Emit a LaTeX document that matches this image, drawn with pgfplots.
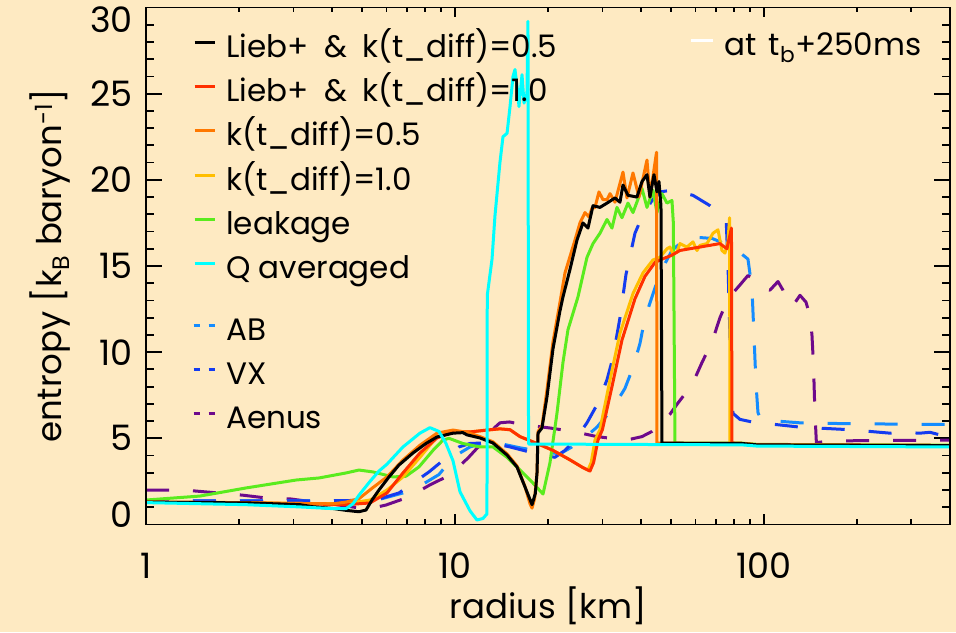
\documentclass[border=0pt]{standalone}
\usepackage{pgfplots}
\pgfplotsset{compat=1.18}
\usepackage{fontspec}
\setmainfont{Poppins}

\definecolor{bgpeach}{RGB}{254,234,194}
\definecolor{cLiebA}{RGB}{0,0,0}
\definecolor{cLiebB}{RGB}{255,48,0}
\definecolor{cKhalf}{RGB}{255,120,0}
\definecolor{cKone}{RGB}{255,190,0}
\definecolor{cLeak}{RGB}{90,235,30}
\definecolor{cQavg}{RGB}{0,255,255}
\definecolor{cAB}{RGB}{20,140,255}
\definecolor{cVX}{RGB}{20,60,240}
\definecolor{cAenus}{RGB}{110,10,140}

\newcommand{\legfont}{\fontsize{31}{36}\selectfont}
\newcommand{\tickfont}{\fontsize{35}{40}\selectfont}
\newcommand{\labfont}{\fontsize{34}{40}\selectfont}

\begin{document}
\begin{tikzpicture}
\fill[bgpeach] (0,0) rectangle (956pt,632pt);
\useasboundingbox (0,0) rectangle (956pt,632pt);

% data axis, with the y ticks
\begin{axis}[
  xmode=log, xmin=1, xmax=400, ymin=0, ymax=30,
  scale only axis, width=804pt, height=517pt,
  at={(146pt,107.5pt)}, anchor=south west,
  axis line style={line width=1.8pt, black},
  every tick/.style={line width=1.8pt, black},
  xtick=\empty,
  ytick={0,5,10,15,20,25,30},
  minor ytick={1,2,3,4,6,7,8,9,11,12,13,14,16,17,18,19,21,22,23,24,26,27,28,29},
  yticklabels={\raisebox{10pt}[\height][\depth]{0},5,10,15,20,25,\raisebox{-12pt}[\height][\depth]{30}},
  major tick length=16pt, minor tick length=8pt,
  yticklabel style={font=\tickfont, anchor=east, inner sep=0pt, xshift=-13pt},
  ylabel={entropy [k\textsubscript{B} baryon\textsuperscript{-1}]},
  ylabel style={font=\labfont, at={(axis description cs:-0.1045,0.5)}, anchor=base},
]
% Aenus
\addplot[line width=3pt, line join=round, dash pattern=on 23pt off 24pt, cAenus] coordinates {
(1.000,2.0) (1.187,2.0) (1.430,1.95) (1.710,1.83) (2.060,1.7) (2.445,1.54) (2.947,1.48) (3.498,1.3)
(4.213,1.13) (4.891,0.96) (5.4,0.95) (5.980,1.13) (7.098,1.6) (8.300,2.3) (9.634,2.87) (11.02,3.86)
(12.32,4.8) (13.2,5.5) (13.98,5.9) (15.0,5.95) (16.60,5.8) (20.29,5.6) (24.09,5.4) (28.81,5.1)
(33.69,4.95) (37.0,4.95) (40.29,5.1) (43.4,5.4) (46.76,5.9) (49.63,6.4) (52.68,7.05) (58.48,8.1)
(63.02,9.4) (67.91,10.6) (72.05,12.0) (76.48,13.1) (83.62,13.9) (88.76,14.45) (93.52,14.2) (98.51,13.7)
(104.6,13.6) (111.0,14.1) (115.2,13.6) (118.7,12.9) (124.1,12.7) (130.8,13.3) (136.8,12.9) (140.9,12.1)
(143.0,11.0) (144.6,9.3) (146.2,6.5) (147.8,4.75) (163.5,4.85) (399.9,4.9)
};
% AB
\addplot[line width=3pt, line join=round, dash pattern=on 23pt off 24pt, cAB] coordinates {
(1.000,1.36) (4.438,1.38) (5.675,1.45) (6.787,1.83) (7.646,2.2) (8.876,2.9) (9.852,3.9) (11.18,4.5)
(12.51,4.75) (13.98,4.7) (16.23,4.45) (19.56,4.2) (21.87,4.1) (23.9,4.5) (25.38,4.9) (27.35,5.3)
(28.81,5.65) (32.46,6.75) (35.49,7.9) (37.68,9.1) (39.69,10.5) (41.20,12.0) (43.40,13.2) (46.07,14.6)
(50.38,15.9) (56.75,16.7) (67.91,16.6) (79.38,16.1) (88.76,15.4) (91.45,13.7) (92.82,11.0) (94.21,8.2)
(95.62,6.5) (97.07,6.2) (100.7,6.05) (110.2,6.0) (130.8,5.9) (185.6,5.85) (399.9,5.8)
};
% VX
\addplot[line width=3pt, line join=round, dash pattern=on 23pt off 24pt, cVX] coordinates {
(1.000,1.36) (4.438,1.38) (5.675,1.48) (6.588,1.83) (8.238,3.05) (9.352,3.86) (10.30,4.5) (11.18,4.7)
(12.98,4.75) (15.07,4.5) (17.49,4.2) (19.56,4.0) (21.07,3.9) (22.70,4.3) (24.45,4.9) (26.74,5.9)
(29.03,7.05) (31.05,8.4) (32.46,9.7) (34.20,12.0) (35.76,14.5) (38.24,16.9) (40.29,17.85) (43.40,18.8)
(46.07,19.3) (50.38,19.4) (58.92,19.1) (66.90,18.5) (72.05,18.0) (75.5,17.6) (76.5,15.0) (77.6,11.0)
(78.5,7.5) (79.38,6.45) (83.62,6.1) (91.45,5.95) (130.8,5.65) (189.8,5.5) (237.4,5.35) (255.7,5.3)
(275.5,5.35) (319.8,5.3) (344.5,5.35) (371.2,5.2) (399.9,5.25)
};
% leakage
\addplot[line width=3pt, line join=round, cLeak] coordinates {
(1.000,1.42) (1.495,1.65) (2.107,2.12) (3.058,2.58) (3.630,2.7) (4.438,2.99) (4.891,3.16) (5.428,3.05)
(6.300,2.76) (6.941,2.8) (7.646,3.34) (8.488,4.3) (9.146,4.9) (9.563,5.0) (10.61,4.7) (12.05,4.5)
(13.27,4.5) (14.74,3.9) (16.23,3.16) (17.89,2.4) (19.27,1.77) (20.29,3.57) (21.39,6.47) (22.36,9.4)
(23.21,11.3) (25.0,13.2) (26.74,15.5) (27.97,16.3) (29.46,16.9) (31.05,17.7) (32.22,17.2) (33.44,18.4)
(34.71,17.8) (36.30,18.65) (37.68,18.1) (40.29,19.5) (41.82,18.4) (43.72,19.4) (45.05,18.1) (46.76,19.2)
(48.54,18.65) (50.38,18.8) (50.9,17.5) (51.52,4.72) (85,4.72) (95,4.65) (400,4.6)
};
% k(t_diff)=1.0
\addplot[line width=3pt, line join=round, cKone] coordinates {
(1.000,1.30) (2.170,1.27) (3.150,1.22) (4.438,1.2) (5.308,1.42) (6.025,2.0) (6.787,2.76) (7.703,3.9)
(8.744,5.08) (9.852,5.37) (11.18,5.37) (12.69,5.48) (13.98,5.55) (15.07,5.5) (16.23,5.1) (18.43,4.7)
(20.76,4.3) (23.56,3.75) (25.95,3.3) (26.94,3.16) (27.6,3.6) (28.39,4.9) (29.46,5.5) (31.75,8.4)
(34.20,11.1) (37.68,13.4) (40.59,14.6) (43.72,15.35) (46.07,15.5) (48.54,16.0) (49.63,16.1) (50.75,15.7)
(52.29,15.8) (53.47,16.3) (56.33,16.1) (58.92,16.4) (60.7,15.9) (62.09,16.2) (65.42,16.3) (68.39,16.9)
(70.98,17.1) (73.13,15.9) (74.79,15.75) (76.48,16.4) (77.4,17.8) (77.63,4.72) (85,4.7) (95,4.62) (400,4.58)
};
% Lieb+ & k(t_diff)=1.0
\addplot[line width=3pt, line join=round, cLiebB] coordinates {
(1.000,1.30) (2.170,1.25) (3.150,1.2) (4.438,1.15) (5.308,1.25) (6.025,1.83) (6.787,2.99) (7.703,4.15)
(8.744,5.02) (9.852,5.37) (11.18,5.37) (12.69,5.48) (13.98,5.55) (15.07,5.5) (16.23,5.1) (18.43,4.7)
(20.76,4.3) (23.56,3.75) (25.95,3.3) (27.35,3.1) (28.1,3.6) (29.03,4.9) (30.0,5.5) (32.22,8.0)
(34.71,10.7) (38.24,13.1) (41.20,14.4) (44.38,15.2) (46.76,15.4) (50.0,15.6) (53.47,15.9) (57.5,16.0)
(62.09,16.1) (66.90,16.2) (72.05,16.3) (75.91,16.0) (78.5,17.2) (78.79,4.72) (85,4.7) (95,4.62) (400,4.58)
};
% k(t_diff)=0.5
\addplot[line width=3pt, line join=round, cKhalf] coordinates {
(1.000,1.30) (2.170,1.25) (3.150,1.22) (4.029,1.2) (4.438,1.3) (4.891,1.5) (5.388,2.1) (6.025,2.76)
(6.787,3.74) (7.703,4.6) (8.744,5.3) (9.852,5.48) (10.94,5.35) (12.05,5.1) (13.27,4.8) (14.74,4.1)
(15.87,3.4) (16.85,2.2) (17.49,1.2) (17.76,0.95) (18.1,1.5) (18.43,3.0) (18.57,5.4) (19.12,5.7)
(19.85,7.8) (20.76,10.6) (21.87,12.9) (22.70,14.6) (24.45,16.5) (25.38,17.5) (26.35,18.1) (27.14,17.85)
(27.76,18.35) (28.39,18.4) (29.24,19.3) (30.13,18.85) (31.05,18.85) (31.75,19.2) (32.95,18.7) (34.97,20.45)
(36.03,18.95) (37.68,20.4) (39.40,19.0) (41.82,21.15) (42.76,19.0) (44.9,21.6) (45.05,4.72) (85,4.7)
(95,4.62) (400,4.58)
};
% Lieb+ & k(t_diff)=0.5
\addplot[line width=3pt, line join=round, cLiebA] coordinates {
(1.000,1.30) (2.170,1.25) (3.150,1.15) (3.472,1.03) (4.029,0.93) (4.438,0.82) (4.891,0.74) (5.152,0.84)
(5.388,1.42) (5.675,2.00) (6.115,2.76) (6.588,3.45) (7.313,4.15) (8.055,4.70) (8.744,5.08) (9.852,5.30)
(10.61,5.33) (10.94,5.20) (12.05,5.02) (13.27,4.73) (14.74,4.03) (15.87,3.34) (16.85,2.18) (17.76,1.15)
(18.20,1.80) (18.43,3.00) (18.57,5.30) (19.12,5.60) (19.85,7.40) (20.76,10.2) (21.87,12.4) (22.36,13.2)
(23.56,14.8) (24.82,16.5) (25.95,17.5) (26.94,17.2) (27.97,18.5) (29.46,18.4) (31.05,18.65) (32.95,18.95)
(34.20,18.7) (34.97,19.7) (36.30,19.1) (38.82,19.0) (40.29,19.9) (41.82,20.3) (42.76,19.0) (44.06,20.3)
(45.05,19.3) (45.73,19.9) (46.42,18.5) (46.76,4.72) (85,4.70) (95,4.62) (400,4.58)
};
% Q averaged
\addplot[line width=3pt, line join=round, cQavg] coordinates {
(1.000,1.27) (2.107,1.15) (3.150,1.02) (4.029,0.92) (4.438,0.92) (4.677,1.2) (4.891,1.7) (5.308,2.5)
(5.675,3.1) (6.025,3.5) (6.787,4.5) (7.703,5.3) (8.3,5.62) (8.876,5.4) (9.352,4.7) (9.852,3.7)
(10.38,1.9) (11.18,0.8) (11.78,0.26) (12.32,0.35) (12.60,0.55) (12.69,0.6) (12.72,13.3) (13.18,15.4)
(13.47,17.9) (13.98,21.0) (14.30,22.5) (14.74,22.7) (15.07,24.25) (15.41,26.0) (15.64,26.4) (15.99,25.0)
(16.11,24.25) (16.48,26.1) (16.73,24.45) (17.10,25.0) (17.23,29.2) (17.30,4.67) (85,4.62) (95,4.55) (400,4.5)
};
\end{axis}

% x ticks, x label and the legend of the solid curves
\begin{axis}[
  xmode=log, xmin=1, xmax=400, ymin=0, ymax=30,
  scale only axis, width=804pt, height=517pt,
  at={(146pt,107.5pt)}, anchor=south west,
  axis line style={line width=1.8pt, black},
  every tick/.style={line width=1.8pt, black},
  ytick=\empty,
  xtick={1,10,100}, xticklabels={1,10,100},
  minor xtick={2,3,4,5,6,7,8,9,20,30,40,50,60,70,80,90,200,300,400},
  major tick length=10pt, minor tick length=5pt,
  xticklabel style={font=\tickfont, anchor=north, inner sep=0pt, yshift=-28.5pt},
  xlabel={radius [km]},
  xlabel style={font=\labfont, at={(axis description cs:0.5,-0.181)}, anchor=base},
  legend style={draw=none, fill=none, font=\legfont, at={(axis description cs:0.0585,0.9507)}, anchor=north west,
    inner sep=0pt, column sep=10pt, row sep=11.3pt,
    cells={anchor=base west}, nodes={inner sep=0pt, text height=24pt, text depth=9pt}},
  legend image code/.code={\draw[#1, line width=3pt] (0pt,15pt) -- (20pt,15pt);},
]
\addlegendimage{cLiebA}\addlegendentry{Lieb+\hspace{0.5em}\&\hspace{0.5em}k(t\_diff)=0.5}
\addlegendimage{cLiebB}\addlegendentry{Lieb+\hspace{0.5em}\&\hspace{0.5em}k(t\_diff)=1.0}
\addlegendimage{cKhalf}\addlegendentry{k(t\_diff)=0.5}
\addlegendimage{cKone}\addlegendentry{k(t\_diff)=1.0}
\addlegendimage{cLeak}\addlegendentry{leakage}
\addlegendimage{cQavg}\addlegendentry{Q averaged}
\end{axis}

% legend of the dashed curves
\begin{axis}[
  xmode=log, xmin=1, xmax=400, ymin=0, ymax=30,
  scale only axis, width=804pt, height=517pt,
  at={(146pt,107.5pt)}, anchor=south west, hide axis,
  legend style={draw=none, fill=none, font=\legfont, at={(axis description cs:0.0572,0.4033)}, anchor=north west,
    inner sep=0pt, column sep=10pt, row sep=11pt,
    cells={anchor=base west}, nodes={inner sep=0pt, text height=24pt, text depth=9pt}},
  legend image code/.code={\draw[#1, line width=3pt, dash pattern=on 6pt off 9pt] (0pt,15pt) -- (21pt,15pt);},
]
\addlegendimage{cAB}\addlegendentry{AB}
\addlegendimage{cVX}\addlegendentry{VX}
\addlegendimage{cAenus}\addlegendentry{Aenus}
\end{axis}

% time stamp
\begin{axis}[
  xmode=log, xmin=1, xmax=400, ymin=0, ymax=30,
  scale only axis, width=804pt, height=517pt,
  at={(146pt,107.5pt)}, anchor=south west, hide axis,
  legend style={draw=none, fill=none, font=\legfont, at={(axis description cs:0.6754,0.9545)}, anchor=north west,
    inner sep=0pt, column sep=10pt,
    cells={anchor=base west}, nodes={inner sep=0pt, text height=24pt, text depth=9pt}},
  legend image code/.code={\draw[#1, line width=3pt] (0pt,15pt) -- (22pt,15pt);},
]
\addlegendimage{white}\addlegendentry{at\hspace{0.4em}t\textsubscript{b}+250ms}
\end{axis}
\end{tikzpicture}
\end{document}
